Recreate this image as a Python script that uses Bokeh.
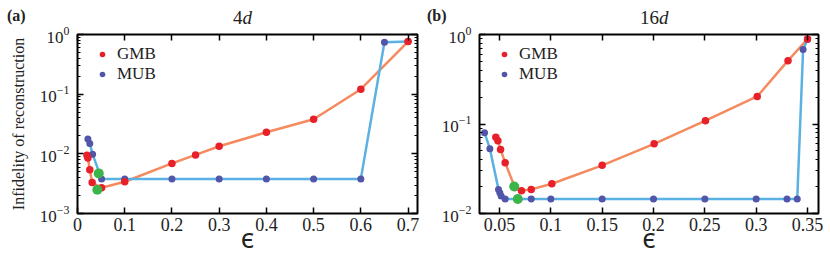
from bokeh.plotting import figure
from bokeh.layouts import row, column
from bokeh.models import (LinearAxis, LogAxis, FixedTicker, Legend, LegendItem, Div,
                          PrintfTickFormatter, Range1d, CustomJSTickFormatter)
from bokeh.embed import file_html
from bokeh.resources import INLINE

FONT = "Liberation Serif"
RED = "#e8202a"
ORANGE = "#f58a5f"
BLUE = "#5256a8"
LBLUE = "#5ab1e3"
GREEN = "#3bb54a"

# ---- panel (a) 4d ----
a_gmb_eps = [0.020, 0.022, 0.026, 0.031, 0.051, 0.1, 0.2, 0.25, 0.3, 0.4, 0.5, 0.6, 0.7]
a_gmb_val = [0.0095, 0.0085, 0.0054, 0.0033, 0.0027, 0.0034, 0.0069, 0.0096, 0.0134, 0.023, 0.038, 0.121, 0.76]
a_mub_eps = [0.022, 0.026, 0.032, 0.051, 0.1, 0.2, 0.3, 0.4, 0.5, 0.6, 0.65, 0.7]
a_mub_val = [0.0177, 0.0149, 0.0098, 0.0038, 0.0038, 0.0038, 0.0038, 0.0038, 0.0038, 0.0038, 0.74, 0.76]
a_opt_eps = [0.042, 0.045]
a_opt_val = [0.0025, 0.0047]
a_xticks = [0, 0.1, 0.2, 0.3, 0.4, 0.5, 0.6, 0.7]
a_yexp = [-3, -2, -1, 0]

# ---- panel (b) 16d ----
b_gmb_eps = [0.0464, 0.0484, 0.051, 0.0555, 0.065, 0.0714, 0.0809, 0.101, 0.150, 0.2006, 0.2506, 0.301, 0.331, 0.350]
b_gmb_val = [0.071, 0.065, 0.052, 0.037, 0.0195, 0.018, 0.0186, 0.0215, 0.0345, 0.060, 0.109, 0.203, 0.51, 0.89]
b_mub_eps = [0.0354, 0.0406, 0.049, 0.0503, 0.0516, 0.0555, 0.0809, 0.1, 0.15, 0.2, 0.25, 0.3, 0.33, 0.340, 0.3457, 0.350]
b_mub_val = [0.080, 0.053, 0.0186, 0.017, 0.0157, 0.0145, 0.0145, 0.0145, 0.0145, 0.0145, 0.0145, 0.0145, 0.0145, 0.0145, 0.68, 0.88]
b_opt_eps = [0.0643, 0.0678]
b_opt_val = [0.020, 0.0145]
b_xticks = [0.05, 0.1, 0.15, 0.2, 0.25, 0.3, 0.35]
b_yexp = [-2, -1, 0]

HEAD_H = 16


def make_panel(width, xr, yexp, xticks, gmb, mub, opt, bl, br, ylabel):
    yr = (10.0 ** yexp[0], 10.0 ** yexp[-1])
    p = figure(width=width, height=260 - HEAD_H, x_range=Range1d(*xr), y_range=Range1d(*yr),
               y_axis_type="log", output_backend="svg", toolbar_location=None,
               min_border_left=bl, min_border_right=br, min_border_top=34 - HEAD_H, min_border_bottom=47)
    p.grid.visible = False
    p.outline_line_color = "black"
    p.outline_line_width = 2
    p.background_fill_color = "white"
    p.border_fill_alpha = 0

    bottom = p.below[0]
    left = p.left[0]
    majors = [10.0 ** e for e in yexp]
    minors = [m * 10.0 ** e for e in yexp[:-1] for m in range(2, 10)]
    xt = FixedTicker(ticks=xticks)
    yt = FixedTicker(ticks=majors, minor_ticks=minors)
    bottom.ticker = xt
    bottom.formatter = PrintfTickFormatter(format="%g")
    left.ticker = yt

    blank = CustomJSTickFormatter(code="return ''")
    top = LinearAxis(ticker=xt, formatter=blank)
    right = LogAxis(ticker=yt, formatter=blank)
    p.add_layout(top, "above")
    p.add_layout(right, "right")

    for ax in [bottom, left, top, right]:
        ax.axis_line_color = None
        ax.major_tick_in = 6
        ax.major_tick_out = 0
        ax.minor_tick_in = 3
        ax.minor_tick_out = 0
        ax.major_tick_line_width = 1.5
        ax.major_tick_line_color = "black"
        ax.minor_tick_line_color = "black"
        ax.major_label_text_font = FONT
        ax.major_label_text_font_size = "18px"
        ax.major_label_text_color = "#222222"
    for ax in [top, right]:
        ax.major_label_standoff = 0
    left.major_label_text_font_size = "17px"
    bottom.minor_tick_in = 0
    top.minor_tick_in = 0
    bottom.major_label_standoff = 4
    left.major_label_standoff = 8

    bottom.axis_label = "ϵ"
    bottom.axis_label_text_font = "Noto Sans"
    bottom.axis_label_text_font_size = "27px"
    bottom.axis_label_text_font_style = "normal"
    bottom.axis_label_text_color = "#222222"
    bottom.axis_label_standoff = -15

    if ylabel:
        left.axis_label = ylabel
        left.axis_label_text_font = FONT
        left.axis_label_text_font_size = "16px"
        left.axis_label_text_font_style = "normal"
        left.axis_label_text_color = "#222222"
        left.axis_label_standoff = 10

    p.line(gmb[0], gmb[1], line_color=ORANGE, line_width=2.5)
    p.line(mub[0], mub[1], line_color=LBLUE, line_width=2.5)
    rm = p.scatter(mub[0], mub[1], size=7, fill_color=BLUE, line_color=None)
    rg = p.scatter(gmb[0], gmb[1], size=7.5, fill_color=RED, line_color=None)
    p.scatter(opt[0], opt[1], size=10, fill_color=GREEN, line_color=None)

    leg = Legend(items=[LegendItem(label="GMB", renderers=[rg]), LegendItem(label="MUB", renderers=[rm])],
                 location="top_left", border_line_color=None, background_fill_alpha=0,
                 label_text_font=FONT, label_text_font_size="17px", label_text_color="#222222",
                 glyph_width=30, glyph_height=14, label_height=14, spacing=0, padding=4, margin=10,
                 label_standoff=-4)
    p.add_layout(leg)
    return p


pa = make_panel(420, (0, 0.72), a_yexp, a_xticks,
                (a_gmb_eps, a_gmb_val), (a_mub_eps, a_mub_val), (a_opt_eps, a_opt_val),
                77, 3, "Infidelity of reconstruction")
pb = make_panel(410, (0.0305, 0.3607), b_yexp, b_xticks,
                (b_gmb_eps, b_gmb_val), (b_mub_eps, b_mub_val), (b_opt_eps, b_opt_val),
                59, 12, None)

S = "position:absolute;line-height:1;color:#222222;white-space:nowrap;font-family:'Liberation Serif';"
head = Div(width=830, height=HEAD_H, margin=0, styles={"overflow": "visible", "z-index": "5"}, text=(
    f'<div style="position:relative;width:830px;height:{HEAD_H}px;overflow:visible;">'
    f'<span style="{S}left:7px;top:8px;font-size:16px;font-weight:bold;">(a)</span>'
    f'<span style="{S}left:233px;top:8px;font-size:19px;">4<i>d</i></span>'
    f'<span style="{S}left:427px;top:8px;font-size:16px;font-weight:bold;">(b)</span>'
    f'<span style="{S}left:640px;top:8px;font-size:19px;">16<i>d</i></span>'
    '</div>'))

layout = column(head, row(pa, pb))
open("out.html", "w").write(file_html(layout, INLINE))
